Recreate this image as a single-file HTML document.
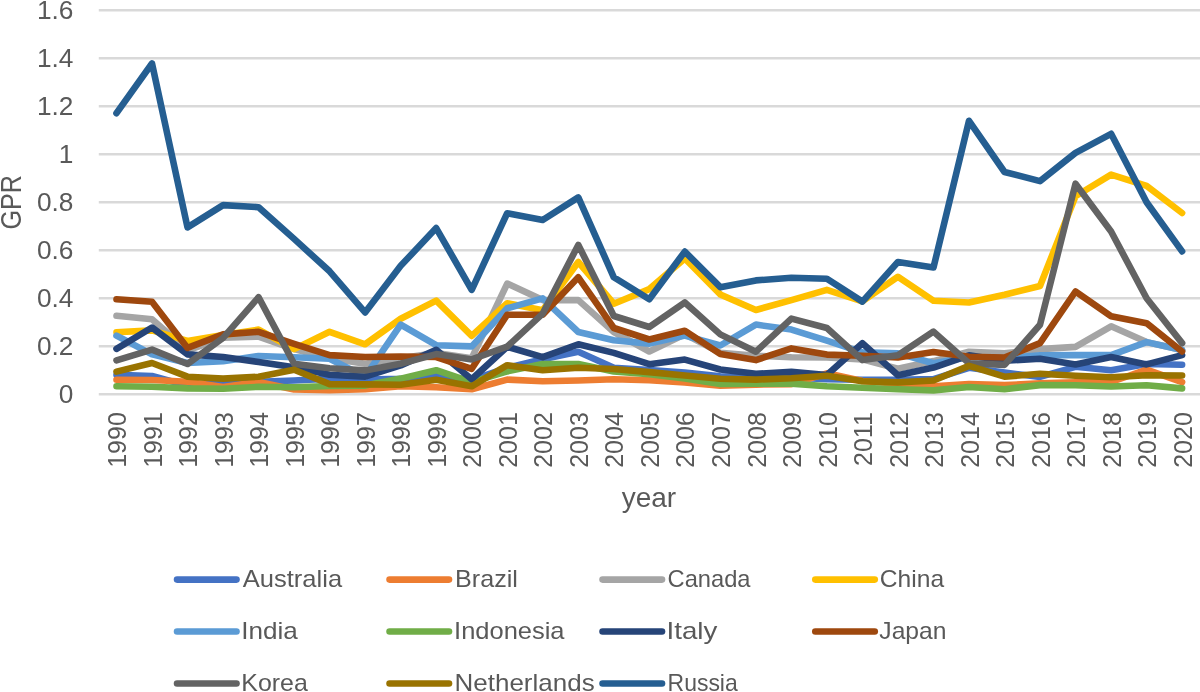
<!DOCTYPE html>
<html><head><meta charset="utf-8"><title>GPR by country</title>
<style>
html,body{margin:0;padding:0;background:#fff;}
body{width:1200px;height:692px;overflow:hidden;font-family:"Liberation Sans",sans-serif;}
svg{display:block;will-change:transform;}
text{font-family:"Liberation Sans",sans-serif;fill:#595959;}
.g line{stroke:#D9D9D9;stroke-width:2.4;}
.s path{fill:none;stroke-width:6.6;stroke-linecap:round;stroke-linejoin:round;}
.l line{stroke-width:6.6;stroke-linecap:round;}
</style></head><body>
<svg width="1200" height="692" viewBox="0 0 1200 692">
<rect width="1200" height="692" fill="#ffffff"/>
<g class="g">
<line x1="98.8" y1="394.2" x2="1200" y2="394.2"/>
<line x1="98.8" y1="346.2" x2="1200" y2="346.2"/>
<line x1="98.8" y1="298.2" x2="1200" y2="298.2"/>
<line x1="98.8" y1="250.2" x2="1200" y2="250.2"/>
<line x1="98.8" y1="202.2" x2="1200" y2="202.2"/>
<line x1="98.8" y1="154.2" x2="1200" y2="154.2"/>
<line x1="98.8" y1="106.2" x2="1200" y2="106.2"/>
<line x1="98.8" y1="58.2" x2="1200" y2="58.2"/>
<line x1="98.8" y1="10.2" x2="1200" y2="10.2"/>
</g>
<g font-size="25" text-anchor="end">
<text transform="translate(73.4,402.7) scale(1.05,1)">0</text>
<text transform="translate(73.4,354.7) scale(1.05,1)">0.2</text>
<text transform="translate(73.4,306.7) scale(1.05,1)">0.4</text>
<text transform="translate(73.4,258.7) scale(1.05,1)">0.6</text>
<text transform="translate(73.4,210.7) scale(1.05,1)">0.8</text>
<text transform="translate(73.4,162.7) scale(1.05,1)">1</text>
<text transform="translate(73.4,114.7) scale(1.05,1)">1.2</text>
<text transform="translate(73.4,66.7) scale(1.05,1)">1.4</text>
<text transform="translate(73.4,18.7) scale(1.05,1)">1.6</text>
</g>
<g font-size="25" text-anchor="end">
<text transform="translate(126.1,412.2) rotate(-90) scale(1,1.03)">1990</text>
<text transform="translate(161.6,412.2) rotate(-90) scale(1,1.03)">1991</text>
<text transform="translate(197.1,412.2) rotate(-90) scale(1,1.03)">1992</text>
<text transform="translate(232.7,412.2) rotate(-90) scale(1,1.03)">1993</text>
<text transform="translate(268.2,412.2) rotate(-90) scale(1,1.03)">1994</text>
<text transform="translate(303.7,412.2) rotate(-90) scale(1,1.03)">1995</text>
<text transform="translate(339.2,412.2) rotate(-90) scale(1,1.03)">1996</text>
<text transform="translate(374.7,412.2) rotate(-90) scale(1,1.03)">1997</text>
<text transform="translate(410.3,412.2) rotate(-90) scale(1,1.03)">1998</text>
<text transform="translate(445.8,412.2) rotate(-90) scale(1,1.03)">1999</text>
<text transform="translate(481.3,412.2) rotate(-90) scale(1,1.03)">2000</text>
<text transform="translate(516.8,412.2) rotate(-90) scale(1,1.03)">2001</text>
<text transform="translate(552.3,412.2) rotate(-90) scale(1,1.03)">2002</text>
<text transform="translate(587.9,412.2) rotate(-90) scale(1,1.03)">2003</text>
<text transform="translate(623.4,412.2) rotate(-90) scale(1,1.03)">2004</text>
<text transform="translate(658.9,412.2) rotate(-90) scale(1,1.03)">2005</text>
<text transform="translate(694.4,412.2) rotate(-90) scale(1,1.03)">2006</text>
<text transform="translate(729.9,412.2) rotate(-90) scale(1,1.03)">2007</text>
<text transform="translate(765.5,412.2) rotate(-90) scale(1,1.03)">2008</text>
<text transform="translate(801.0,412.2) rotate(-90) scale(1,1.03)">2009</text>
<text transform="translate(836.5,412.2) rotate(-90) scale(1,1.03)">2010</text>
<text transform="translate(872.0,412.2) rotate(-90) scale(1,1.03)">2011</text>
<text transform="translate(907.5,412.2) rotate(-90) scale(1,1.03)">2012</text>
<text transform="translate(943.1,412.2) rotate(-90) scale(1,1.03)">2013</text>
<text transform="translate(978.6,412.2) rotate(-90) scale(1,1.03)">2014</text>
<text transform="translate(1014.1,412.2) rotate(-90) scale(1,1.03)">2015</text>
<text transform="translate(1049.6,412.2) rotate(-90) scale(1,1.03)">2016</text>
<text transform="translate(1085.1,412.2) rotate(-90) scale(1,1.03)">2017</text>
<text transform="translate(1120.7,412.2) rotate(-90) scale(1,1.03)">2018</text>
<text transform="translate(1156.2,412.2) rotate(-90) scale(1,1.03)">2019</text>
<text transform="translate(1191.7,412.2) rotate(-90) scale(1,1.03)">2020</text>
</g>
<text x="648.9" y="506.6" font-size="28" text-anchor="middle">year</text>
<text transform="translate(21.3,202.3) rotate(-90) scale(0.93,1.09)" font-size="27" text-anchor="middle">GPR</text>
<g class="s">
<path stroke="#4472C4" d="M116.5,374.8 L152.0,376.0 L187.5,385.6 L223.1,381.7 L258.6,381.7 L294.1,380.5 L329.6,378.6 L365.1,379.6 L400.7,378.8 L436.2,376.4 L471.7,379.8 L507.2,367.8 L542.7,359.2 L578.3,351.7 L613.8,367.8 L649.3,370.0 L684.8,372.6 L720.3,376.2 L755.9,376.9 L791.4,377.4 L826.9,379.3 L862.4,379.8 L897.9,379.8 L933.5,379.1 L969.0,367.8 L1004.5,372.6 L1040.0,376.9 L1075.5,366.8 L1111.1,370.2 L1146.6,364.0 L1182.1,364.7"/>
<path stroke="#ED7D31" d="M116.5,379.8 L152.0,380.0 L187.5,381.7 L223.1,387.0 L258.6,382.0 L294.1,389.4 L329.6,390.1 L365.1,389.2 L400.7,386.3 L436.2,387.2 L471.7,389.2 L507.2,379.6 L542.7,381.2 L578.3,380.5 L613.8,379.3 L649.3,380.3 L684.8,382.4 L720.3,385.6 L755.9,384.6 L791.4,384.1 L826.9,373.3 L862.4,381.0 L897.9,383.6 L933.5,386.3 L969.0,384.0 L1004.5,385.1 L1040.0,383.4 L1075.5,382.2 L1111.1,382.0 L1146.6,369.7 L1182.1,382.2"/>
<path stroke="#A5A5A5" d="M116.5,315.7 L152.0,319.3 L187.5,350.3 L223.1,337.8 L258.6,336.6 L294.1,349.1 L329.6,358.2 L365.1,363.7 L400.7,358.2 L436.2,352.9 L471.7,358.2 L507.2,283.6 L542.7,300.1 L578.3,300.1 L613.8,332.0 L649.3,351.5 L684.8,334.2 L720.3,352.9 L755.9,355.8 L791.4,357.2 L826.9,357.5 L862.4,359.4 L897.9,368.8 L933.5,361.1 L969.0,351.7 L1004.5,353.4 L1040.0,349.1 L1075.5,346.9 L1111.1,326.3 L1146.6,342.1 L1182.1,350.0"/>
<path stroke="#FFC000" d="M116.5,332.3 L152.0,330.4 L187.5,340.9 L223.1,334.9 L258.6,329.6 L294.1,349.1 L329.6,331.8 L365.1,344.3 L400.7,318.8 L436.2,300.6 L471.7,335.9 L507.2,303.2 L542.7,310.2 L578.3,262.0 L613.8,303.7 L649.3,289.1 L684.8,258.4 L720.3,294.4 L755.9,310.0 L791.4,300.1 L826.9,289.8 L862.4,301.3 L897.9,276.8 L933.5,300.8 L969.0,302.5 L1004.5,294.8 L1040.0,286.0 L1075.5,196.2 L1111.1,174.6 L1146.6,185.9 L1182.1,213.0"/>
<path stroke="#5B9BD5" d="M116.5,335.6 L152.0,354.4 L187.5,363.0 L223.1,361.3 L258.6,356.0 L294.1,357.2 L329.6,358.7 L365.1,376.7 L400.7,324.6 L436.2,345.2 L471.7,346.4 L507.2,308.3 L542.7,298.4 L578.3,332.0 L613.8,340.2 L649.3,343.6 L684.8,335.6 L720.3,345.5 L755.9,324.6 L791.4,329.6 L826.9,340.7 L862.4,352.4 L897.9,353.4 L933.5,363.2 L969.0,357.0 L1004.5,358.2 L1040.0,355.3 L1075.5,355.1 L1111.1,355.1 L1146.6,342.1 L1182.1,350.0"/>
<path stroke="#70AD47" d="M116.5,386.3 L152.0,386.8 L187.5,388.4 L223.1,388.7 L258.6,386.8 L294.1,387.2 L329.6,386.0 L365.1,385.6 L400.7,378.6 L436.2,370.2 L471.7,382.2 L507.2,371.4 L542.7,364.0 L578.3,364.0 L613.8,371.4 L649.3,374.3 L684.8,378.4 L720.3,383.9 L755.9,383.6 L791.4,383.6 L826.9,386.3 L862.4,387.7 L897.9,389.2 L933.5,390.4 L969.0,387.0 L1004.5,389.2 L1040.0,385.1 L1075.5,385.3 L1111.1,386.5 L1146.6,385.3 L1182.1,388.4"/>
<path stroke="#264478" d="M116.5,348.8 L152.0,327.5 L187.5,354.4 L223.1,357.0 L258.6,362.0 L294.1,367.3 L329.6,374.8 L365.1,376.7 L400.7,365.4 L436.2,349.8 L471.7,379.3 L507.2,346.7 L542.7,357.2 L578.3,344.3 L613.8,352.9 L649.3,364.2 L684.8,359.6 L720.3,369.5 L755.9,373.8 L791.4,371.9 L826.9,375.0 L862.4,343.3 L897.9,375.2 L933.5,367.6 L969.0,355.3 L1004.5,360.8 L1040.0,358.7 L1075.5,364.4 L1111.1,357.0 L1146.6,364.4 L1182.1,355.1"/>
<path stroke="#9E480E" d="M116.5,299.2 L152.0,301.8 L187.5,347.9 L223.1,334.4 L258.6,331.8 L294.1,343.8 L329.6,355.1 L365.1,357.0 L400.7,356.5 L436.2,357.0 L471.7,368.8 L507.2,314.8 L542.7,314.8 L578.3,277.3 L613.8,328.0 L649.3,339.5 L684.8,330.8 L720.3,354.1 L755.9,360.1 L791.4,348.4 L826.9,354.6 L862.4,355.8 L897.9,357.5 L933.5,352.0 L969.0,356.8 L1004.5,357.5 L1040.0,343.1 L1075.5,291.5 L1111.1,316.2 L1146.6,323.2 L1182.1,351.5"/>
<path stroke="#636363" d="M116.5,360.4 L152.0,349.6 L187.5,364.0 L223.1,337.8 L258.6,297.2 L294.1,363.7 L329.6,368.3 L365.1,370.4 L400.7,363.7 L436.2,354.1 L471.7,359.4 L507.2,346.7 L542.7,313.6 L578.3,244.9 L613.8,316.0 L649.3,327.0 L684.8,302.5 L720.3,334.4 L755.9,351.7 L791.4,318.6 L826.9,328.0 L862.4,360.1 L897.9,355.3 L933.5,331.6 L969.0,363.2 L1004.5,364.9 L1040.0,324.8 L1075.5,183.7 L1111.1,231.5 L1146.6,298.2 L1182.1,343.1"/>
<path stroke="#997300" d="M116.5,371.6 L152.0,363.0 L187.5,376.7 L223.1,378.6 L258.6,376.7 L294.1,369.7 L329.6,384.1 L365.1,384.4 L400.7,384.8 L436.2,379.8 L471.7,386.3 L507.2,365.2 L542.7,370.2 L578.3,367.8 L613.8,369.0 L649.3,372.1 L684.8,375.5 L720.3,378.7 L755.9,379.6 L791.4,378.2 L826.9,375.8 L862.4,381.2 L897.9,382.4 L933.5,380.5 L969.0,365.9 L1004.5,376.7 L1040.0,373.8 L1075.5,375.7 L1111.1,377.2 L1146.6,375.2 L1182.1,375.5"/>
<path stroke="#255E91" d="M116.5,113.2 L152.0,63.5 L187.5,227.4 L223.1,205.1 L258.6,207.2 L294.1,238.9 L329.6,271.3 L365.1,312.4 L400.7,265.8 L436.2,228.1 L471.7,289.8 L507.2,213.2 L542.7,220.0 L578.3,197.4 L613.8,277.3 L649.3,299.2 L684.8,251.6 L720.3,287.2 L755.9,280.4 L791.4,277.8 L826.9,278.8 L862.4,301.6 L897.9,262.0 L933.5,267.5 L969.0,120.8 L1004.5,172.0 L1040.0,181.1 L1075.5,152.8 L1111.1,133.8 L1146.6,202.2 L1182.1,251.4"/>
</g>
<g class="l" font-size="24">
<line x1="177.05" y1="579.6" x2="236.50" y2="579.6" stroke="#4472C4"/>
<text x="242.80" y="587.2" textLength="99.3" lengthAdjust="spacingAndGlyphs">Australia</text>
<line x1="389.55" y1="579.6" x2="449.00" y2="579.6" stroke="#ED7D31"/>
<text x="455.05" y="587.2" textLength="62.8" lengthAdjust="spacingAndGlyphs">Brazil</text>
<line x1="602.55" y1="579.6" x2="662.00" y2="579.6" stroke="#A5A5A5"/>
<text x="667.55" y="587.2" textLength="83.0" lengthAdjust="spacingAndGlyphs">Canada</text>
<line x1="815.30" y1="579.6" x2="874.75" y2="579.6" stroke="#FFC000"/>
<text x="879.80" y="587.2" textLength="64.3" lengthAdjust="spacingAndGlyphs">China</text>
<line x1="177.05" y1="631.5" x2="236.50" y2="631.5" stroke="#5B9BD5"/>
<text x="241.30" y="639.1" textLength="56.5" lengthAdjust="spacingAndGlyphs">India</text>
<line x1="389.55" y1="631.5" x2="449.00" y2="631.5" stroke="#70AD47"/>
<text x="454.05" y="639.1" textLength="110.5" lengthAdjust="spacingAndGlyphs">Indonesia</text>
<line x1="602.55" y1="631.5" x2="662.00" y2="631.5" stroke="#264478"/>
<text x="666.55" y="639.1" textLength="50.8" lengthAdjust="spacingAndGlyphs">Italy</text>
<line x1="815.30" y1="631.5" x2="874.75" y2="631.5" stroke="#9E480E"/>
<text x="879.30" y="639.1" textLength="67.2" lengthAdjust="spacingAndGlyphs">Japan</text>
<line x1="177.05" y1="683.5" x2="236.50" y2="683.5" stroke="#636363"/>
<text x="241.30" y="691.1" textLength="66.5" lengthAdjust="spacingAndGlyphs">Korea</text>
<line x1="389.55" y1="683.5" x2="449.00" y2="683.5" stroke="#997300"/>
<text x="454.55" y="691.1" textLength="140.1" lengthAdjust="spacingAndGlyphs">Netherlands</text>
<line x1="602.55" y1="683.5" x2="662.00" y2="683.5" stroke="#255E91"/>
<text x="667.55" y="691.1" textLength="70.2" lengthAdjust="spacingAndGlyphs">Russia</text>
</g>
</svg></body></html>
